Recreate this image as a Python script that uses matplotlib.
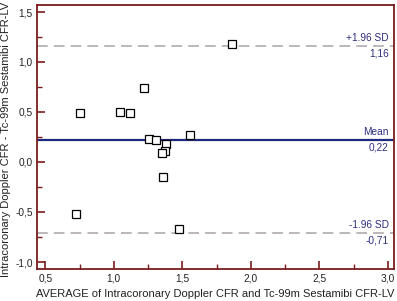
import matplotlib
matplotlib.use("Agg")
import matplotlib.pyplot as plt
from matplotlib.ticker import MultipleLocator, FuncFormatter

avg = [1.224, 0.755, 1.047, 1.120, 1.260, 1.307, 1.384, 1.370, 1.350, 1.362, 1.557, 1.861, 0.728, 1.477]
diff = [0.743, 0.487, 0.497, 0.487, 0.230, 0.217, 0.180, 0.113, 0.090, -0.147, 0.273, 1.177, -0.523, -0.673]
mean_val = 0.22
upper = 1.16
lower = -0.71

plt.rcParams['font.family'] = ['Liberation Sans', 'DejaVu Sans']
fig = plt.figure(figsize=(3.97, 3.01), dpi=100)
ax = fig.add_axes([37/397, 1 - 269/301, (394-37)/397, (269-5)/301])

frame_c = '#7a1c1c'
txt_c = '#2b2f80'

ax.axhline(upper, color='#aaa3a5', lw=1.1, ls=(0, (7, 4)), zorder=1)
ax.axhline(lower, color='#aaa3a5', lw=1.1, ls=(0, (7, 4)), zorder=1)
ax.axhline(mean_val, color='#1e2a7f', lw=1.6, zorder=1)
ax.plot(avg, diff, ls='none', marker='s', ms=5.8, mfc='white', mec='black', mew=0.9, zorder=3)

ax.set_xlim(0.44, 3.044)
ax.set_ylim(-1.07, 1.57)
ax.xaxis.set_major_locator(MultipleLocator(0.5))
ax.xaxis.set_minor_locator(MultipleLocator(0.25))
ax.yaxis.set_major_locator(MultipleLocator(0.5))
ax.yaxis.set_minor_locator(MultipleLocator(0.25))
fmt = FuncFormatter(lambda v, p: f"{v:.1f}".replace('.', ','))
ax.xaxis.set_major_formatter(fmt)
ax.yaxis.set_major_formatter(fmt)
ax.tick_params(which='both', direction='in', color=frame_c, labelsize=7.3, labelcolor='#222222')
ax.tick_params(which='major', length=6, width=1.2, pad=3)
ax.tick_params(which='minor', length=3.5, width=1.0)
for s in ax.spines.values():
    s.set_color(frame_c)
    s.set_linewidth(1.3)

tx = 0.985
yt = ax.get_yaxis_transform()
ax.text(tx, upper + 0.03, '+1.96 SD', transform=yt, ha='right', va='bottom', fontsize=7.3, color=txt_c)
ax.text(tx, upper - 0.03, '1,16', transform=yt, ha='right', va='top', fontsize=7.3, color=txt_c)
ax.text(tx, mean_val + 0.03, 'Mean', transform=yt, ha='right', va='bottom', fontsize=7.3, color=txt_c)
ax.text(tx, mean_val - 0.03, '0,22', transform=yt, ha='right', va='top', fontsize=7.3, color=txt_c)
ax.text(tx, lower + 0.03, '-1.96 SD', transform=yt, ha='right', va='bottom', fontsize=7.3, color=txt_c)
ax.text(tx, lower - 0.03, '-0,71', transform=yt, ha='right', va='top', fontsize=7.3, color=txt_c)

ax.set_xlabel('AVERAGE of Intracoronary Doppler CFR and Tc-99m Sestamibi CFR-LV', fontsize=8.0, color='#222222')
ax.set_ylabel('Intracoronary Doppler CFR - Tc-99m Sestamibi CFR-LV', fontsize=8.0, color='#222222')
ax.xaxis.set_label_coords(0.499, -0.076)
ax.yaxis.set_label_coords(-0.072, 0.489)

fig.savefig('out.png', dpi=100, facecolor='white')
